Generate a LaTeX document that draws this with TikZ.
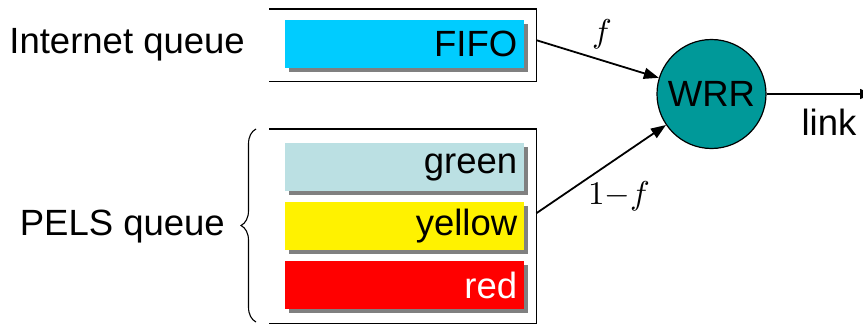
\documentclass[tikz,border=0pt]{standalone}
\usepackage{fontspec}
\setmainfont{Liberation Sans}
\usetikzlibrary{shadows,decorations.pathreplacing,arrows.meta}
\definecolor{fifocyan}{RGB}{0,204,255}
\definecolor{palegreen}{RGB}{187,224,227}
\definecolor{wrrteal}{RGB}{0,153,153}
\definecolor{shadowgray}{RGB}{128,128,128}
\tikzset{
  big/.style={font=\fontsize{36.5}{40}\selectfont},
  bar/.style={big, minimum height=48pt, text width=225pt, inner xsep=7pt,
    inner ysep=0pt, align=right, anchor=north west,
    drop shadow={shadow xshift=4pt, shadow yshift=-4pt, fill=shadowgray, opacity=1}},
  queuebox/.style={draw=none, minimum width=267pt, inner sep=0pt, anchor=north west},
  queueline/.style={line width=1.8pt},
  flow/.style={line width=1.8pt, -{Triangle[length=15pt,width=11pt]}},
  lbl/.style={inner sep=0pt}
}
\begin{document}
\begin{tikzpicture}[x=1pt,y=-1pt]
\useasboundingbox (0,0) rectangle (863,324);

% queue enclosures (open on the left)
\node[queuebox, minimum height=72pt] (inetq) at (269,9) {};
\node[queuebox, minimum height=194pt] (pelsq) at (269,129) {};
\draw[queueline] (inetq.north west) -- (inetq.north east) -- (inetq.south east) -- (inetq.south west);
\draw[queueline] (pelsq.north west) -- (pelsq.north east) -- (pelsq.south east) -- (pelsq.south west);

% coloured buffers
\node[bar, fill=fifocyan] (fifo) at (285,20) {FIFO};
\node[bar, fill=palegreen] (green) at (285,143) {green};
\node[bar, fill=yellow] (yellow) at (285,202) {yellow};
\node[bar, fill=red, text=white] (red) at (285,261) {red};

% queue names
\node[big, anchor=east, inner sep=0pt] (inetname) at (245,45) {Internet queue};
\node[big, anchor=east, inner sep=0pt] (pelsname) at (225,227) {PELS queue};
\coordinate (bracebot) at (256,322);
\coordinate (bracetop) at (256,129);
\draw[line width=1.1pt, decorate, decoration={brace, amplitude=15pt}] (bracebot) -- (bracetop);

% scheduler
\node[circle, draw, line width=1.2pt, fill=wrrteal, minimum size=109pt, inner sep=0pt, big] (wrr) at (711.5,94) {WRR};

% flows into the scheduler
\draw[flow] ([yshift=5pt]inetq.east) -- (wrr);
\draw[flow] ([yshift=13pt]pelsq.east) -- (wrr);
\node[lbl] (flab) at (602,34) {\scalebox{3.3}{$f$}};
\node[lbl] (onemf) at (619,196) {\scalebox{3.3}{$1{-}f$}};

% outgoing link
\coordinate (linkend) at (872,94);
\draw[line width=1.4pt, -{Triangle[length=12pt,width=10pt]}] (wrr) -- (linkend);
\node[big, inner sep=0pt] (linklbl) at (829,122) {link};
\end{tikzpicture}
\end{document}
